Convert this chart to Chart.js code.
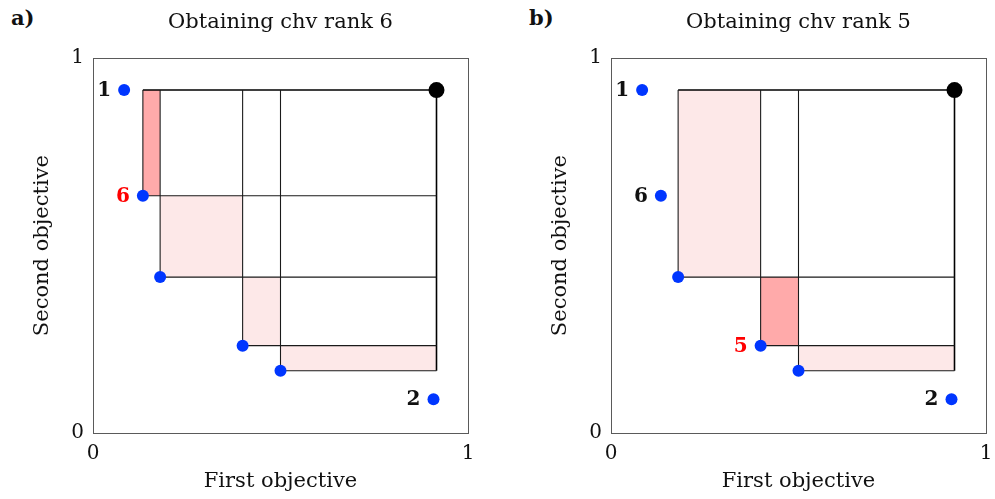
<!DOCTYPE html>
<html>
<head>
<meta charset="utf-8">
<script src="https://cdn.jsdelivr.net/npm/chart.js@4/dist/chart.umd.min.js"></script>
<style>
  html, body { margin: 0; padding: 0; background: #fff; }
  body { width: 995px; height: 499px; position: relative; overflow: hidden; }
  canvas { position: absolute; top: 0; }
  #cA { left: 0; }
  #cB { left: 518px; }
  .tag { position: absolute; top: 5px; font: bold 21px "DejaVu Serif", serif; color: #111; }
</style>
</head>
<body>
<div class="tag" style="left:11px">a)</div>
<div class="tag" style="left:529px">b)</div>
<canvas id="cA" width="477" height="499"></canvas>
<canvas id="cB" width="477" height="499"></canvas>
<script>
// ---- data ----
const pointIds    = ['1', '6', '3', '5', '4', '2'];
const pointX      = [0.083, 0.133, 0.179, 0.399, 0.500, 0.908];
const pointY      = [0.915, 0.633, 0.416, 0.233, 0.166, 0.090];
const refX = 0.916;
const refY = 0.915;
const axisTicks = [0, 1];
const titles = ['Obtaining chv rank 6', 'Obtaining chv rank 5'];
const xTitle = 'First objective';
const yTitle = 'Second objective';
// panel a: points whose boxes are drawn, the point being evaluated
const boxedA = ['6', '3', '5', '4'];
const focusA = '6';
const labeledA = ['1', '6', '2'];
// panel b
const boxedB = ['3', '5', '4'];
const focusB = '5';
const labeledB = ['1', '6', '5', '2'];

const BLUE = '#0036ff';
const DARK_FILL = '#ffaaaa';
const LIGHT_FILL = '#fde8e8';
const LINE = '#1a1a1a';

function idx(id) { return pointIds.indexOf(id); }

function buildDatasets(boxed, focus) {
  const ds = [];
  ds.push({
    data: pointX.map((x, i) => ({x, y: pointY[i]})),
    backgroundColor: BLUE, borderWidth: 0, pointRadius: 6, pointHoverRadius: 6,
    showLine: false, order: 0
  });
  ds.push({
    data: [{x: refX, y: refY}],
    backgroundColor: '#000', borderWidth: 0, pointRadius: 8, pointHoverRadius: 8,
    showLine: false, order: 0
  });
  const b = boxed.map(id => ({x: pointX[idx(id)], y: pointY[idx(id)], id}))
                 .sort((p, q) => p.x - q.x);
  for (let k = 0; k < b.length; k++) {
    const x0 = b[k].x;
    const x1 = k + 1 < b.length ? b[k + 1].x : refX;
    const y0 = b[k].y;
    const y1 = k > 0 ? b[k - 1].y : refY;
    ds.push({
      data: [{x: x0, y: y1}, {x: x1, y: y1}],
      showLine: true, borderWidth: 0, pointRadius: 0, pointHoverRadius: 0,
      backgroundColor: b[k].id === focus ? DARK_FILL : LIGHT_FILL,
      borderColor: 'rgba(0,0,0,0)',
      fill: {value: y0}, order: 3
    });
  }
  for (const p of b) {
    ds.push({
      data: [{x: p.x, y: refY}, {x: p.x, y: p.y}, {x: refX, y: p.y}],
      showLine: true, borderColor: LINE, borderWidth: 1.1, pointRadius: 0, pointHoverRadius: 0,
      fill: false, order: 1
    });
  }
  const minY = Math.min(...b.map(p => p.y));
  ds.push({
    data: [{x: b[0].x, y: refY}, {x: refX, y: refY}, {x: refX, y: minY}],
    showLine: true, borderColor: '#000', borderWidth: 1.6, pointRadius: 0, pointHoverRadius: 0,
    fill: false, order: 1
  });
  return ds;
}

const frame = {
  id: 'frame',
  beforeDatasetsDraw(chart) {
    const a = chart.chartArea, c = chart.ctx;
    c.save();
    c.strokeStyle = '#5a5a5a';
    c.lineWidth = 1;
    c.strokeRect(Math.round(a.left) + 0.5, Math.round(a.top) + 0.5,
                 Math.round(a.right - a.left), Math.round(a.bottom - a.top));
    c.restore();
  }
};

function labelPlugin(labeled, focus) {
  return {
    id: 'pointLabels',
    afterDatasetsDraw(chart) {
      const c = chart.ctx, xs = chart.scales.x, ys = chart.scales.y;
      c.save();
      c.font = 'bold 20px "DejaVu Serif", serif';
      c.textAlign = 'right';
      c.textBaseline = 'middle';
      for (const id of labeled) {
        const i = idx(id);
        c.fillStyle = id === focus ? '#ff0000' : '#111';
        c.fillText(id, xs.getPixelForValue(pointX[i]) - 13, ys.getPixelForValue(pointY[i]) + 1);
      }
      c.restore();
    }
  };
}

const FONT = '"DejaVu Serif", serif';

function makeChart(canvasId, title, boxed, focus, labeled) {
  return new Chart(document.getElementById(canvasId), {
    type: 'scatter',
    data: { datasets: buildDatasets(boxed, focus) },
    plugins: [frame, labelPlugin(labeled, focus)],
    options: {
      responsive: false,
      animation: false,
      devicePixelRatio: 1,
      layout: { padding: { left: 0, right: 9, top: 0, bottom: 0 } },
      events: [],
      plugins: {
        legend: { display: false },
        tooltip: { enabled: false },
        filler: { drawTime: 'beforeDatasetsDraw' },
        title: {
          display: true, text: title, fullSize: false,
          color: '#111',
          font: { family: FONT, size: 21, weight: 'normal', lineHeight: 1.2 },
          padding: { top: 10, bottom: 23 }
        }
      },
      scales: {
        x: {
          type: 'linear', min: 0, max: 1,
          grid: { display: false, drawTicks: false },
          border: { display: false },
          afterBuildTicks(s) { s.ticks = axisTicks.map(v => ({value: v})); },
          afterFit(s) { s.height = 66; s.paddingLeft = 0; s.paddingRight = 0; },
          ticks: { color: '#111', padding: 9, maxRotation: 0,
                   font: { family: FONT, size: 20 },
                   callback: v => String(v) },
          title: { display: true, text: xTitle, color: '#111',
                   font: { family: FONT, size: 21, lineHeight: 1.2 },
                   padding: { top: 0, bottom: 5 } }
        },
        y: {
          type: 'linear', min: 0, max: 1,
          grid: { display: false, drawTicks: false },
          border: { display: false },
          afterBuildTicks(s) { s.ticks = axisTicks.map(v => ({value: v})); },
          afterFit(s) { s.width = 93; s.paddingTop = 0; s.paddingBottom = 0; },
          ticks: { color: '#111', padding: 9,
                   font: { family: FONT, size: 20 },
                   callback: v => String(v) },
          title: { display: true, text: yTitle, color: '#111',
                   font: { family: FONT, size: 21, lineHeight: 1.2 },
                   padding: { top: 30, bottom: 0 } }
        }
      }
    }
  });
}

makeChart('cA', titles[0], boxedA, focusA, labeledA);
makeChart('cB', titles[1], boxedB, focusB, labeledB);
</script>
</body>
</html>
